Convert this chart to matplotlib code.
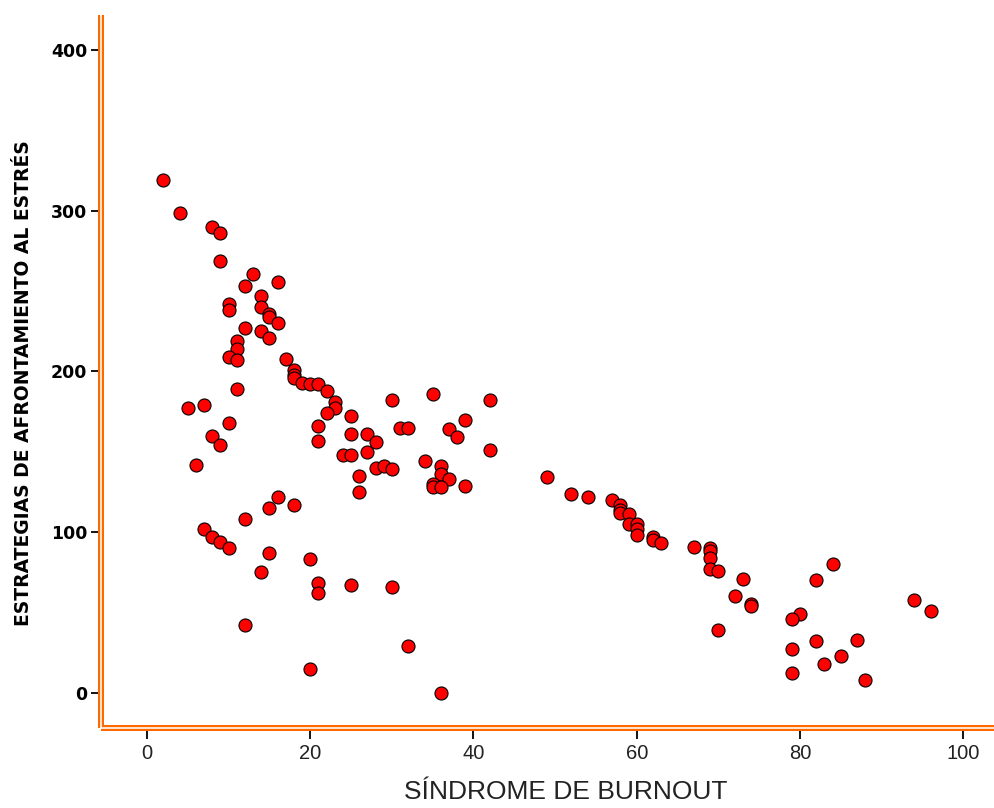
import matplotlib
matplotlib.use("Agg")
import matplotlib.pyplot as plt
from matplotlib.lines import Line2D

# ---- data ----
burnout = [2, 4, 8, 9, 9, 13, 16, 12, 14, 10, 10, 14, 15, 15, 16, 12, 14, 15, 11, 11, 10, 11, 17,
           18, 18, 18, 19, 20, 21, 22, 23, 23, 22, 25, 21, 21, 25, 27, 28, 27, 24, 25, 28, 29, 30, 26, 26,
           11, 5, 7, 10, 8, 9, 6, 16, 15, 18, 12, 7, 8, 9, 10, 15, 14, 20, 21, 21, 25, 30, 12, 32, 20, 36,
           30, 31, 32, 35, 34, 36, 36, 37, 35, 35, 36, 37, 39, 38, 39, 42, 42,
           49, 52, 54, 57, 58, 58, 58, 59, 59, 60, 60, 60, 62, 62, 63, 67, 69, 69, 69, 69, 70, 73, 72, 74, 74, 70,
           84, 82, 80, 79, 79, 79, 82, 83, 85, 87, 88, 94, 96]
afrontamiento = [319, 299, 290, 286, 269, 261, 256, 253, 247, 242, 238, 240, 236, 234, 230, 227, 225, 221, 219, 214, 209, 207, 208,
                 201, 198, 196, 193, 192, 192, 188, 181, 177, 174, 172, 166, 157, 161, 161, 156, 150, 148, 148, 140, 141, 139, 135, 125,
                 189, 177, 179, 168, 160, 154, 142, 122, 115, 117, 108, 102, 97, 94, 90, 87, 75, 83, 68, 62, 67, 66, 42, 29, 15, 0,
                 182, 165, 165, 186, 144, 141, 136, 133, 130, 128, 128, 164, 170, 159, 129, 182, 151,
                 134, 124, 122, 120, 117, 114, 112, 111, 105, 105, 102, 98, 97, 95, 93, 91, 90, 88, 84, 77, 76, 71, 60, 55, 54, 39,
                 80, 70, 49, 46, 27, 12, 32, 18, 23, 33, 8, 58, 51]
x_ticks = [0, 20, 40, 60, 80, 100]
y_ticks = [0, 100, 200, 300, 400]
x_label = "SÍNDROME DE BURNOUT"
y_label = "ESTRATEGIAS DE AFRONTAMIENTO AL ESTRÉS"

ORANGE = "#FF6A00"
W, H, DPI = 995, 808, 100
fig = plt.figure(figsize=(W / DPI, H / DPI), dpi=DPI)
ax = fig.add_axes([101 / W, 1 - 727.5 / H, (W - 101) / W, (727.5 - 15) / H])

ax.scatter(burnout, afrontamiento, s=88, facecolor="#FF0000", edgecolor="black",
           linewidth=0.8, zorder=3)

ax.set_xlim(-5.64, 103.9)
ax.set_ylim(-21.7, 422)
ax.set_xticks(x_ticks)
ax.set_yticks(y_ticks)

for s in ["top", "right"]:
    ax.spines[s].set_visible(False)
for s in ["left", "bottom"]:
    ax.spines[s].set_color(ORANGE)
    ax.spines[s].set_linewidth(6 * 72 / DPI)
    ax.spines[s].set_capstyle("butt")

# inner white gap to get a double line
ax.add_line(Line2D([0, 0], [0, 1], transform=ax.transAxes, color="white",
                   lw=1.6 * 72 / DPI, clip_on=False, zorder=5))
ax.add_line(Line2D([0, 1], [0, 0], transform=ax.transAxes, color="white",
                   lw=1.6 * 72 / DPI, clip_on=False, zorder=5))

ax.tick_params(axis="y", direction="out", length=7, width=1.3, color="black",
               labelsize=12.5, pad=3)
ax.tick_params(axis="x", direction="out", length=8, width=1.3, color="black",
               labelsize=14.5, pad=4, labelcolor="#222222")
for lab in ax.get_yticklabels():
    lab.set_fontweight("heavy")
    lab.set_family("DejaVu Sans")
for lab in ax.get_xticklabels():
    lab.set_family("Liberation Sans")

ax.set_xlabel(x_label, fontsize=19, family="Liberation Sans", color="#222222")
ax.xaxis.set_label_coords(0.52, -0.074)
ax.set_ylabel(y_label, fontsize=13.5, fontweight="heavy", family="DejaVu Sans")
ax.yaxis.set_label_coords(-0.087, 0.483)
ax.yaxis.label.set_va("center")

fig.savefig("out.png", dpi=DPI)
